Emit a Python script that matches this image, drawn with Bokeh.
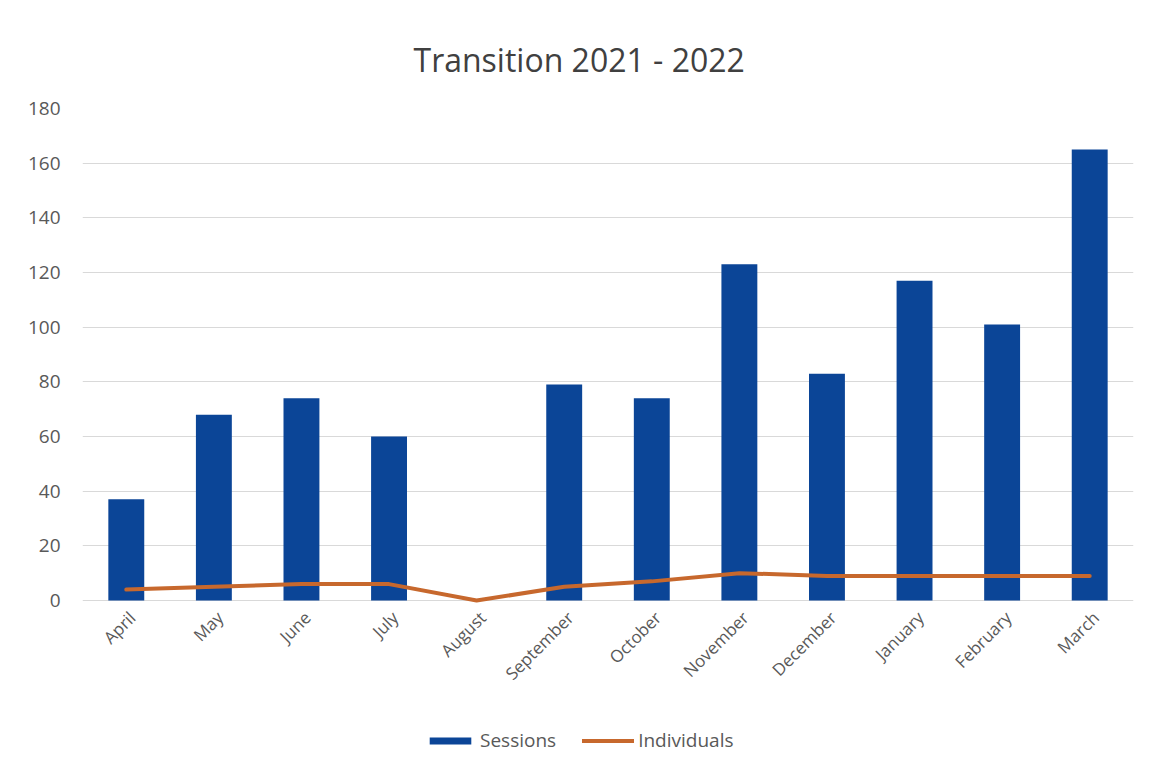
import math
from bokeh.plotting import figure
from bokeh.models import Legend, LegendItem, FixedTicker, ColumnDataSource
from bokeh.core.properties import value
from bokeh.embed import file_html
from bokeh.resources import INLINE

months = ["April", "May", "June", "July", "August", "September", "October",
          "November", "December", "January", "February", "March"]
sessions = [37, 68, 74, 60, 0, 79, 74, 123, 83, 117, 101, 165]
individuals = [4, 5, 6, 6, 0, 5, 7, 10, 9, 9, 9, 9]
y_ticks = [0, 20, 40, 60, 80, 100, 120, 140, 160, 180]

FONT = "Open Sans"
BLUE = "#0b4597"
ORANGE = "#c7682d"
GRID = "#d9d9d9"
TXT = "#595959"

W, H = 1139, 767
TOP, BOTTOM_BORDER = 108, 2
ZERO_PX = 600  # where value 0 sits in the picture
px_per_unit = (ZERO_PX - TOP) / 180.0
y_start = -((H - BOTTOM_BORDER) - ZERO_PX) / px_per_unit

p = figure(x_range=months, y_range=(y_start, 180), width=W, height=H,
           output_backend="svg", toolbar_location=None, x_axis_location=None,
           min_border_left=82, min_border_right=6, min_border_top=TOP,
           min_border_bottom=BOTTOM_BORDER)
p.outline_line_color = None

bars = p.vbar(x=months, top=sessions, width=0.41, fill_color=BLUE,
              line_color=None)
ln = p.line(x=months, y=individuals, line_width=4, color=ORANGE,
            line_join="round", line_cap="round")

# category labels under the zero line, rotated 45 degrees
lab_src = ColumnDataSource(dict(x=months, y=[0] * len(months), t=months))
p.text(x="x", y="y", text="t", source=lab_src, angle=math.pi / 4,
       text_align="right", text_baseline="middle", x_offset=6, y_offset=14,
       text_font=value(FONT), text_font_size="17px", text_color=TXT)

p.title.text = "Transition 2021 - 2022"
p.title.align = "left"
p.title.offset = 331
p.title.text_font = FONT
p.title.text_font_size = "32px"
p.title.text_font_style = "normal"
p.title.text_color = "#404040"
p.title.standoff = 56

p.yaxis.ticker = FixedTicker(ticks=y_ticks)
p.yaxis.axis_line_color = None
p.yaxis.major_tick_line_color = None
p.yaxis.minor_tick_line_color = None
p.yaxis.major_label_text_font = FONT
p.yaxis.major_label_text_font_size = "19px"
p.yaxis.major_label_text_color = TXT
p.yaxis.major_label_standoff = 16

p.xgrid.grid_line_color = None
p.ygrid.ticker = FixedTicker(ticks=y_ticks)
p.ygrid.grid_line_color = GRID
p.ygrid.grid_line_width = 1

legend = Legend(items=[LegendItem(label="Sessions", renderers=[bars]),
                       LegendItem(label="Individuals", renderers=[ln])],
                orientation="horizontal", location=(342, 12))
legend.label_text_font = FONT
legend.label_text_font_size = "19px"
legend.label_text_color = TXT
legend.glyph_width = 52
legend.glyph_height = 9
legend.label_standoff = 4
legend.spacing = 26
legend.border_line_color = None
legend.background_fill_alpha = 0
legend.margin = 0
legend.padding = 0
p.add_layout(legend, "center")

open("out.html", "w").write(file_html(p, INLINE))
